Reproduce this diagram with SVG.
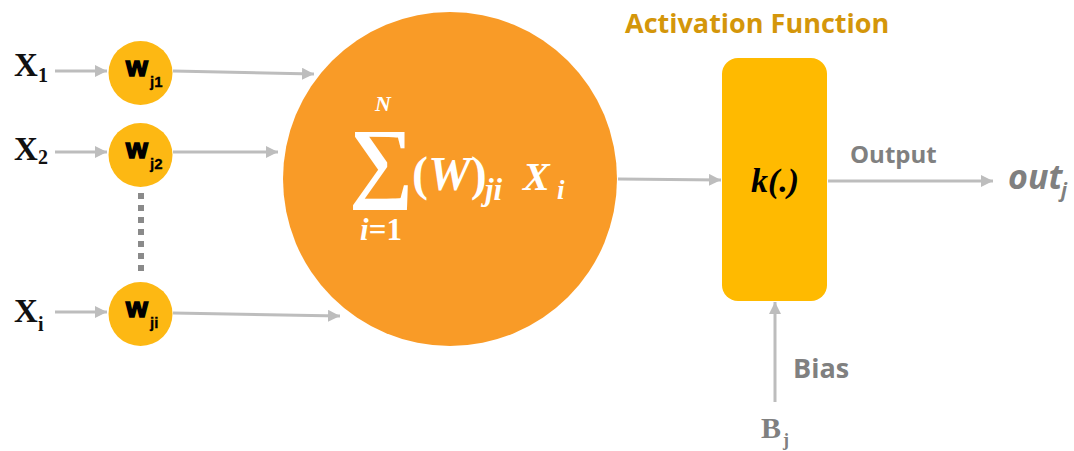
<svg xmlns="http://www.w3.org/2000/svg" width="1074" height="451" viewBox="0 0 1074 451">
<style>
.conn{stroke:#BDBDBD;stroke-width:3;fill:none}
.w{fill:#FDB813}
.wt{font-family:"Liberation Sans",Arial,sans-serif;font-weight:bold;fill:#000;stroke:#000;stroke-width:1.6}
.ws{font-family:"Liberation Sans",Arial,sans-serif;font-weight:bold;fill:#000;stroke:#000;stroke-width:0.3}
.xl{font-family:"Liberation Serif","Times New Roman",serif;font-weight:bold;fill:#111}
.math{font-family:"Liberation Serif","Times New Roman",serif;fill:#fff;font-weight:bold}
.gray{font-family:"Open Sans","Liberation Sans",sans-serif;font-weight:bold;fill:#808080}
</style>
<defs>
<marker id="ah" markerUnits="userSpaceOnUse" markerWidth="14" markerHeight="14" refX="12" refY="6" orient="auto">
<path d="M0,0 L12,6 L0,12 Z" fill="#BDBDBD"/>
</marker>
</defs>
<rect width="1074" height="451" fill="#fff"/>
<g id="connectors">
<line class="conn" x1="55" y1="71" x2="107" y2="71" marker-end="url(#ah)"/>
<line class="conn" x1="55" y1="152" x2="107" y2="152" marker-end="url(#ah)"/>
<line class="conn" x1="55" y1="312" x2="107" y2="312" marker-end="url(#ah)"/>
<line class="conn" x1="173" y1="71" x2="314" y2="74" marker-end="url(#ah)"/>
<line class="conn" x1="173" y1="152" x2="278" y2="152" marker-end="url(#ah)"/>
<line class="conn" x1="173" y1="313" x2="340" y2="316" marker-end="url(#ah)"/>
<line class="conn" x1="618" y1="179" x2="721" y2="180" marker-end="url(#ah)"/>
<line class="conn" x1="828" y1="181" x2="993" y2="181" marker-end="url(#ah)"/>
<line class="conn" x1="775" y1="402" x2="775" y2="302" marker-end="url(#ah)"/>
<line x1="141" y1="193" x2="141" y2="272" stroke="#8A8A8A" stroke-width="6" stroke-dasharray="6,6"/>
</g>
<g id="x1"><text class="xl" x="14" y="76" font-size="33">X</text><text class="xl" x="38" y="82" font-size="20">1</text></g>
<g id="x2"><text class="xl" x="14" y="160" font-size="33">X</text><text class="xl" x="38" y="164" font-size="20">2</text></g>
<g id="xi"><text class="xl" x="14" y="322" font-size="33">X</text><text class="xl" x="38" y="331" font-size="20">i</text></g>
<g id="wj1"><circle class="w" cx="140.5" cy="73" r="32"/><text class="wt" x="126" y="76" font-size="28">w</text><text class="ws" x="150" y="87" font-size="15">j1</text></g>
<g id="wj2"><circle class="w" cx="140.5" cy="155" r="32"/><text class="wt" x="126" y="158" font-size="28">w</text><text class="ws" x="150" y="169" font-size="15">j2</text></g>
<g id="wji"><circle class="w" cx="140.5" cy="314" r="32"/><text class="wt" x="126" y="317" font-size="28">w</text><text class="ws" x="150" y="328" font-size="15">ji</text></g>
<g id="sum">
<circle cx="450" cy="179" r="167" fill="#F99B27"/>
<text class="math" x="349" y="191" font-size="90" font-weight="normal">∑</text>
<text class="math" x="383" y="111" font-size="22" font-style="italic" text-anchor="middle">N</text>
<text class="math" x="381" y="240" font-size="31" text-anchor="middle"><tspan font-style="italic">i</tspan>=1</text>
<text class="math" x="412" y="190" font-size="48">(<tspan font-style="italic">W</tspan>)</text>
<text class="math" x="485" y="200" font-size="31" font-style="italic">ji</text>
<text class="math" x="523" y="190" font-size="40" font-style="italic">X</text>
<text class="math" x="557" y="199" font-size="27" font-style="italic">i</text>
</g>
<g id="activation">
<text x="625" y="33" font-family="'Open Sans','Liberation Sans',sans-serif" font-weight="bold" font-size="27" fill="#D4960A">Activation Function</text>
<rect x="722" y="58" width="105" height="243" rx="16" fill="#FFBA00"/>
<text x="775" y="192" font-family="'Liberation Serif','Times New Roman',serif" font-weight="bold" font-style="italic" font-size="34" fill="#000" text-anchor="middle">k(.)</text>
</g>
<g id="output">
<text class="gray" x="850" y="163" font-size="24">Output</text>
<text class="gray" x="1008" y="189" font-size="34" font-style="italic">out</text>
<text class="gray" x="1061" y="197" font-size="20" font-style="italic">j</text>
</g>
<g id="bias">
<text class="gray" x="793" y="378" font-size="27" font-weight="600">Bias</text>
<text class="xl" x="761" y="438" font-size="30" style="fill:#808080">B</text>
<text class="xl" x="783" y="446" font-size="18" style="fill:#808080">j</text>
</g>
</svg>
